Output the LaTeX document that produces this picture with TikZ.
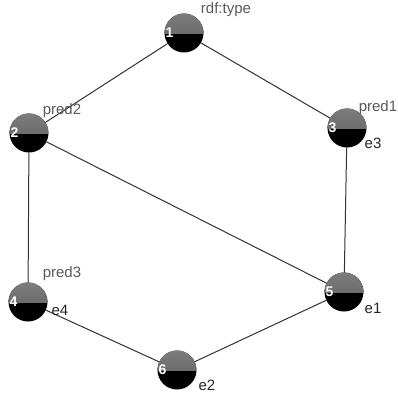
\documentclass[tikz,border=0pt]{standalone}
\usepackage{fontspec}
\setmainfont{Liberation Sans}
\usetikzlibrary{positioning}
\definecolor{spherehi}{HTML}{7C7C7C}
\definecolor{spherelo}{HTML}{5E5E5E}
\definecolor{edgecol}{HTML}{333333}
\definecolor{predcol}{HTML}{5A5A5A}
\tikzset{
  sphere/.style={circle,fill=black,minimum size=39pt,inner sep=0pt,
    path picture={\shade[top color=spherehi,bottom color=spherelo] (path picture bounding box.west) rectangle (path picture bounding box.north east);}},
  num/.style={text=white,font=\fontsize{14}{14}\selectfont\bfseries,inner sep=1pt},
  pred/.style={text=predcol,font=\fontsize{15}{15}\selectfont,inner sep=0pt},
  ent/.style={text=black!85,font=\fontsize{15}{15}\selectfont,inner sep=0pt},
  link/.style={draw=edgecol,line width=1pt}
}
\begin{document}
\begin{tikzpicture}[x=1pt,y=-1pt,line cap=round,line join=round]
\useasboundingbox[fill=white] (0,0) rectangle (397,399);
% vertices
\node[sphere] (v1) at (184,33) {};
\node[sphere] (v2) at (29,133) {};
\node[sphere] (v3) at (347,128) {};
\node[sphere] (v4) at (28,302) {};
\node[sphere] (v5) at (344,292) {};
\node[sphere] (v6) at (177,370) {};
% edges
\draw[link] (v1) -- (v2);
\draw[link] (v1) -- (v3);
\draw[link] (v2) -- (v4);
\draw[link] (v2) -- (v5);
\draw[link] (v3) -- (v5);
\draw[link] (v4) -- (v6);
\draw[link] (v6) -- (v5);
% numbers
\node[num,anchor=west] (n1) at (v1.west) {1};
\node[num,anchor=west] (n2) at (v2.west) {2};
\node[num,anchor=west] (n3) at (v3.west) {3};
\node[num,anchor=west] (n4) at (v4.west) {4};
\node[num,anchor=west] (n5) at (v5.west) {5};
\node[num,anchor=west] (n6) at (v6.west) {6};
% labels
\node[pred] (l1) at (226,10) {rdf:type};
\node[pred] (l2) at (62,111) {pred2};
\node[pred] (l3) at (378,108) {pred1};
\node[pred] (l4) at (62,274) {pred3};
\node[ent] (e3) at (373,143) {e3};
\node[ent] (e4) at (60,310) {e4};
\node[ent] (e1) at (373,308) {e1};
\node[ent] (e2) at (207,385) {e2};
\end{tikzpicture}
\end{document}
